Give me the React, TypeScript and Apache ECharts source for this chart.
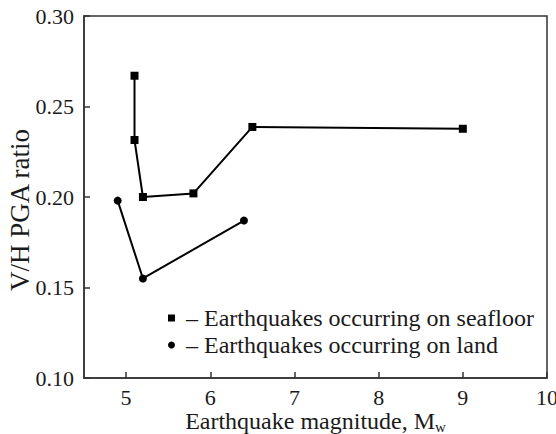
import React, { useEffect, useRef } from "react";
import * as echarts from "echarts";

// Moment magnitude of each event group
const seafloorMw = [5.1, 5.1, 5.2, 5.8, 6.5, 9.0];
const seafloorRatio = [0.267, 0.2315, 0.2, 0.202, 0.2387, 0.2377];

const landMw = [4.9, 5.2, 6.4];
const landRatio = [0.198, 0.155, 0.187];

const xTicks = [5, 6, 7, 8, 9, 10];

const seafloorName = "Earthquakes occurring on seafloor";
const landName = "Earthquakes occurring on land";

const FONT = "Liberation Serif";
const INK = "#1a1a1a";
const AXIS = "#333";

const pairs = (xs: number[], ys: number[]) => xs.map((x, i) => [x, ys[i]]);

export default function App() {
  const ref = useRef<HTMLDivElement>(null);

  useEffect(() => {
    if (!ref.current) return;
    const chart = echarts.init(ref.current, undefined, { renderer: "svg" });
    chart.setOption({
      animation: false,
      backgroundColor: "#ffffff",
      textStyle: { fontFamily: FONT },
      grid: {
        left: 84,
        right: 9,
        top: 16,
        bottom: 56,
        outerBoundsMode: "none",
        containLabel: false,
        show: true,
        borderColor: AXIS,
        borderWidth: 1.5,
      },
      legend: {
        orient: "vertical",
        left: 163,
        top: 301,
        itemWidth: 7,
        itemHeight: 7,
        itemGap: 3,
        textStyle: { fontFamily: FONT, fontSize: 24, color: INK },
        formatter: (name: string) => "\u00A0–\u00A0" + name,
        data: [
          { name: seafloorName, icon: "rect" },
          { name: landName, icon: "circle" },
        ],
      },
      xAxis: {
        type: "value",
        min: 4.5,
        max: 10,
        name: "Earthquake magnitude, M{sub|w}",
        nameLocation: "middle",
        nameGap: 29,
        nameMoveOverlap: false,
        nameTextStyle: {
          fontFamily: FONT,
          fontSize: 24,
          color: INK,
          rich: {
            sub: {
              fontFamily: FONT,
              fontSize: 15,
              color: INK,
              verticalAlign: "bottom",
              padding: [12, 0, 0, 0],
            },
          },
        },
        axisLine: { lineStyle: { color: AXIS, width: 1.5 } },
        axisTick: {
          inside: true,
          length: 6,
          customValues: xTicks,
          lineStyle: { color: AXIS, width: 1.5 },
        },
        axisLabel: {
          customValues: xTicks,
          margin: 8,
          fontFamily: FONT,
          fontSize: 22,
          color: INK,
        },
        splitLine: { show: false },
      },
      yAxis: {
        type: "value",
        min: 0.1,
        max: 0.3,
        interval: 0.05,
        name: "V/H PGA ratio",
        nameLocation: "middle",
        nameGap: 51,
        nameMoveOverlap: false,
        nameTextStyle: {
          fontFamily: FONT,
          fontSize: 27,
          color: INK,
          padding: [0, 26, 0, 0],
        },
        axisLine: { show: true, lineStyle: { color: AXIS, width: 1.5 } },
        axisTick: {
          show: true,
          inside: true,
          length: 6,
          lineStyle: { color: AXIS, width: 1.5 },
        },
        axisLabel: {
          margin: 10,
          fontFamily: FONT,
          fontSize: 22,
          color: INK,
          formatter: (v: number) => v.toFixed(2),
        },
        splitLine: { show: false },
      },
      series: [
        {
          name: seafloorName,
          type: "line",
          data: pairs(seafloorMw, seafloorRatio),
          symbol: "rect",
          symbolSize: 8,
          itemStyle: { color: "#000" },
          lineStyle: { color: "#000", width: 2 },
        },
        {
          name: landName,
          type: "line",
          data: pairs(landMw, landRatio),
          symbol: "circle",
          symbolSize: 8,
          itemStyle: { color: "#000" },
          lineStyle: { color: "#000", width: 2 },
        },
      ],
    });
    return () => chart.dispose();
  }, []);

  return (
    <div
      ref={ref}
      style={{ position: "fixed", left: 0, top: 0, width: 556, height: 434 }}
    />
  );
}
